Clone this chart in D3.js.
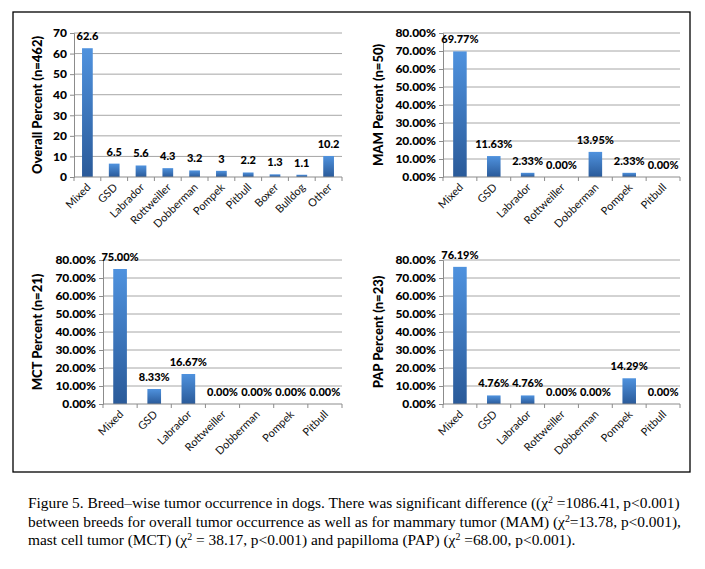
<!DOCTYPE html>
<html><head><meta charset="utf-8">
<script src="https://cdn.jsdelivr.net/npm/d3@7/dist/d3.min.js"></script>
<style>
body{margin:0;background:#fff;}
svg{display:block;}
</style></head>
<body>
<script>
// ---- data ----
const breedsOverall = ["Mixed","GSD","Labrador","Rottweiller","Dobberman","Pompek","Pitbull","Boxer","Bulldog","Other"];
const overallValues = [62.6,6.5,5.6,4.3,3.2,3,2.2,1.3,1.1,10.2];
const breedsTumor = ["Mixed","GSD","Labrador","Rottweiller","Dobberman","Pompek","Pitbull"];
const mamValues = [69.77,11.63,2.33,0,13.95,2.33,0];
const mctValues = [75.00,8.33,16.67,0,0,0,0];
const papValues = [76.19,4.76,4.76,0,0,14.29,0];
const overallTicks = [0,10,20,30,40,50,60,70];
const percentTicks = [0,10,20,30,40,50,60,70,80];
const titles = ["Overall Percent (n=462)","MAM Percent (n=50)","MCT Percent (n=21)","PAP Percent (n=23)"];
const captionLines = [
  [["Figure 5. Breed–wise tumor occurrence in dogs. There was significant difference ((χ"],["2","sup"],[" =1086.41, p<0.001)"]],
  [["between breeds for overall tumor occurrence as well as for mammary tumor (MAM) (χ"],["2","sup"],["=13.78, p<0.001),"]],
  [["mast cell tumor (MCT) (χ"],["2","sup"],[" = 38.17, p<0.001) and papilloma (PAP) (χ"],["2","sup"],[" =68.00, p<0.001)."]]
];

const W=705,H=569;
const svg=d3.select("body").append("svg").attr("width",W).attr("height",H);
const defs=svg.append("defs");
const grad=defs.append("linearGradient").attr("id","barGrad").attr("x1",0).attr("y1",0).attr("x2",0).attr("y2",1);
grad.append("stop").attr("offset","0%").attr("stop-color","#4f92de");
grad.append("stop").attr("offset","100%").attr("stop-color","#2a5a99");

// outer frame
svg.append("rect").attr("x",13).attr("y",12).attr("width",677).attr("height",460)
  .attr("fill","none").attr("stroke","#000").attr("stroke-width",1.3);

const panels=[
  {cats:breedsOverall, vals:overallValues, ticks:overallTicks, max:70, fmt:d=>String(d), tfmt:d=>String(d),
   left:74,right:342,top:33,bottom:177,titleX:37,title:titles[0]},
  {cats:breedsTumor, vals:mamValues, ticks:percentTicks, max:80, fmt:d=>d.toFixed(2)+"%", tfmt:d=>d.toFixed(2)+"%",
   left:443,right:680,top:33,bottom:177,titleX:378,title:titles[1]},
  {cats:breedsTumor, vals:mctValues, ticks:percentTicks, max:80, fmt:d=>d.toFixed(2)+"%", tfmt:d=>d.toFixed(2)+"%",
   left:103,right:342,top:260,bottom:404,titleX:37,title:titles[2]},
  {cats:breedsTumor, vals:papValues, ticks:percentTicks, max:80, fmt:d=>d.toFixed(2)+"%", tfmt:d=>d.toFixed(2)+"%",
   left:443,right:680,top:260,bottom:404,titleX:378,title:titles[3]}
];

panels.forEach(p=>{
  const g=svg.append("g");
  const x=d3.scaleBand().domain(p.cats).range([p.left,p.right]).paddingInner(0.6).paddingOuter(0.3);
  const y=d3.scaleLinear().domain([0,p.max]).range([p.bottom,p.top]);
  // gridlines
  g.selectAll("line.grid").data(p.ticks.filter(t=>t>0)).join("line")
    .attr("x1",p.left).attr("x2",p.right).attr("y1",d=>y(d)).attr("y2",d=>y(d))
    .attr("stroke","#a6a6a6").attr("stroke-width",1);
  // y axis
  const ya=g.append("g").attr("transform",`translate(${p.left},0)`)
    .call(d3.axisLeft(y).tickValues(p.ticks).tickFormat(p.tfmt).tickSize(4).tickPadding(3));
  ya.select(".domain").attr("stroke","#8c8c8c");
  ya.selectAll(".tick line").attr("stroke","#8c8c8c");
  ya.selectAll(".tick text").attr("font-family","Lato, sans-serif").attr("font-weight","900")
    .attr("font-size",12).attr("fill","#000");
  // bars
  g.selectAll("rect.bar").data(p.vals).join("rect")
    .attr("x",(d,i)=>x(p.cats[i])).attr("width",x.bandwidth())
    .attr("y",d=>y(d)).attr("height",d=>p.bottom-y(d))
    .attr("fill","url(#barGrad)");
  // x axis line
  g.append("line").attr("x1",p.left).attr("x2",p.right).attr("y1",p.bottom).attr("y2",p.bottom)
    .attr("stroke","#8c8c8c");
  const step=x.step();
  g.selectAll("line.xt").data(d3.range(p.cats.length+1)).join("line")
    .attr("x1",i=>p.left+i*step).attr("x2",i=>p.left+i*step)
    .attr("y1",p.bottom).attr("y2",p.bottom+4).attr("stroke","#8c8c8c");
  // category labels
  g.selectAll("text.cat").data(p.cats).join("text")
    .attr("transform",d=>`translate(${x(d)+x.bandwidth()/2+4},${p.bottom+11}) rotate(-45)`)
    .attr("text-anchor","end").attr("font-family","Lato, sans-serif").attr("font-size",11)
    .attr("fill","#111").text(d=>d);
  // data labels
  g.selectAll("text.val").data(p.vals).join("text")
    .attr("x",(d,i)=>x(p.cats[i])+x.bandwidth()/2).attr("y",d=>y(d)-8)
    .attr("text-anchor","middle").attr("font-family","Lato, sans-serif").attr("font-weight","900")
    .attr("font-size",11).attr("fill","#000").text(p.fmt);
  // axis title
  g.append("text").attr("transform",`translate(${p.titleX},${(p.top+p.bottom)/2}) rotate(-90)`)
    .attr("text-anchor","middle").attr("dy","0.35em").attr("font-family","Lato, sans-serif")
    .attr("font-weight","900").attr("font-size",13).attr("fill","#000").text(p.title);
});

// caption
const cap=svg.append("g").attr("font-family","'Liberation Serif', serif").attr("font-size",14).attr("fill","#000");
captionLines.forEach((parts,li)=>{
  const t=cap.append("text").attr("x",28).attr("y",508+li*18.7);
  parts.forEach(pt=>{
    const s=t.append("tspan").text(pt[0]);
    if(pt[1]==="sup") s.attr("font-size",9).attr("baseline-shift","super");
  });
});
// fit caption to width of the first line
const t0=cap.select("text").node();
const len=t0.getComputedTextLength();
const scale=652/len;
cap.attr("font-size",14*scale);
cap.selectAll("tspan").filter(function(){return d3.select(this).attr("font-size");}).attr("font-size",9*scale);
</script>
</body></html>
